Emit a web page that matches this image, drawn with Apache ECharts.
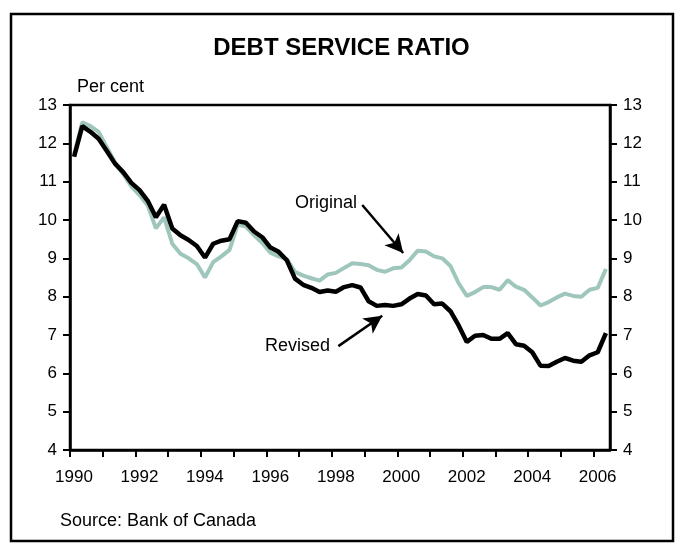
<!DOCTYPE html>
<html>
<head>
<meta charset="utf-8">
<script src="https://cdn.jsdelivr.net/npm/echarts@6/dist/echarts.min.js"></script>
<style>
  html, body { margin: 0; padding: 0; background: #fff; }
  #chart { width: 683px; height: 555px; }
</style>
</head>
<body>
<div id="chart"></div>
<script>
// quarterly, 1990Q1 .. 2006Q2
const startYear = 1990;
const revised = [
  11.65, 12.45, 12.3, 12.12, 11.8, 11.47, 11.25, 10.97, 10.78, 10.5, 10.07, 10.4,
  9.78, 9.6, 9.48, 9.32, 9.02, 9.38, 9.46, 9.5, 9.97, 9.93, 9.7, 9.55,
  9.28, 9.17, 8.95, 8.47, 8.31, 8.23, 8.12, 8.16, 8.13, 8.25, 8.3, 8.24,
  7.88, 7.76, 7.78, 7.76, 7.8, 7.95, 8.07, 8.03, 7.8, 7.82, 7.62, 7.25,
  6.82, 6.98, 7.0, 6.9, 6.9, 7.05, 6.76, 6.72, 6.55, 6.2, 6.19, 6.3,
  6.4, 6.33, 6.3, 6.47, 6.55, 7.05
];
const original = [
  11.7, 12.55, 12.45, 12.3, 11.9, 11.5, 11.2, 10.88, 10.65, 10.38, 9.78, 10.07,
  9.38, 9.12, 9.0, 8.85, 8.5, 8.9, 9.05, 9.22, 9.88, 9.83, 9.6, 9.4,
  9.15, 9.05, 8.98, 8.65, 8.55, 8.48, 8.42, 8.58, 8.62, 8.75, 8.87, 8.85,
  8.82, 8.7, 8.65, 8.74, 8.76, 8.95, 9.2, 9.18, 9.05, 9.0, 8.8, 8.35,
  8.02, 8.12, 8.25, 8.25, 8.18, 8.43, 8.26, 8.18, 7.98, 7.77, 7.86, 7.98,
  8.08, 8.02, 8.0, 8.18, 8.23, 8.72
];
const yTicks = [4, 5, 6, 7, 8, 9, 10, 11, 12, 13];

// quarter mid-points as x positions
function toPairs(vals) {
  return vals.map((v, i) => [startYear + Math.floor(i / 4) + (i % 4) / 4 + 0.125, v]);
}

const chart = echarts.init(document.getElementById('chart'));
const font = 'Liberation Sans, Arial, sans-serif';

const yAxisBase = {
  type: 'value',
  min: yTicks[0],
  max: yTicks[yTicks.length - 1],
  interval: 1,
  splitLine: { show: false },
  axisLine: { show: true, lineStyle: { color: '#000', width: 2.5 } },
  axisTick: { show: true, length: 7, lineStyle: { color: '#000', width: 2 } },
  axisLabel: { color: '#000', fontSize: 17, fontFamily: font, margin: 13 }
};

chart.setOption({
  animation: false,
  backgroundColor: '#fff',
  grid: {
    left: 70, right: 73, top: 105, bottom: 105,
    show: true, borderColor: '#000', borderWidth: 2.5
  },
  graphic: [
    { type: 'rect', shape: { x: 11, y: 14, width: 662, height: 527 },
      style: { fill: 'none', stroke: '#000', lineWidth: 2.5 }, z: -1 },
    { type: 'text', left: 'center', top: 36,
      style: { text: 'DEBT SERVICE RATIO', font: 'bold 24px ' + font, fill: '#000' } },
    { type: 'text', left: 77, top: 78,
      style: { text: 'Per cent', font: '18px ' + font, fill: '#000' } },
    { type: 'text', left: 295, top: 194,
      style: { text: 'Original', font: '18px ' + font, fill: '#000' } },
    { type: 'text', left: 265, top: 337,
      style: { text: 'Revised', font: '18px ' + font, fill: '#000' } },
    { type: 'text', left: 60, top: 512,
      style: { text: 'Source: Bank of Canada', font: '18px ' + font, fill: '#000' } }
  ],
  xAxis: {
    type: 'value',
    min: 1990,
    max: 2006.5,
    interval: 1,
    splitLine: { show: false },
    axisLine: { lineStyle: { color: '#000', width: 2.5 } },
    axisTick: { show: true, length: 7, lineStyle: { color: '#000', width: 2 } },
    axisLabel: {
      color: '#000', fontSize: 17, fontFamily: font, margin: 19,
      padding: [0, 0, 0, 8],
      showMaxLabel: false,
      formatter: v => (v % 2 === 0 ? String(v) : '')
    }
  },
  yAxis: [
    Object.assign({}, yAxisBase, { position: 'left' }),
    Object.assign({}, yAxisBase, { position: 'right' })
  ],
  series: [
    {
      name: 'Original',
      type: 'line',
      data: toPairs(original),
      showSymbol: false,
      lineStyle: { color: '#9fc6bc', width: 4 },
      z: 2,
      markLine: {
        silent: true,
        symbol: ['none', 'arrow'],
        symbolSize: [14, 18],
        lineStyle: { color: '#000', width: 2.5, type: 'solid' },
        label: { show: false },
        data: [[{ coord: [1998.93, 10.39] }, { coord: [2000.18, 9.14] }]]
      }
    },
    {
      name: 'Revised',
      type: 'line',
      data: toPairs(revised),
      showSymbol: false,
      lineStyle: { color: '#000', width: 4.5 },
      z: 3,
      markLine: {
        silent: true,
        symbol: ['none', 'arrow'],
        symbolSize: [14, 18],
        lineStyle: { color: '#000', width: 2.5, type: 'solid' },
        label: { show: false },
        data: [[{ coord: [1998.2, 6.71] }, { coord: [1999.54, 7.5] }]]
      }
    }
  ]
});
window.addEventListener('resize', () => chart.resize());
</script>
</body>
</html>
